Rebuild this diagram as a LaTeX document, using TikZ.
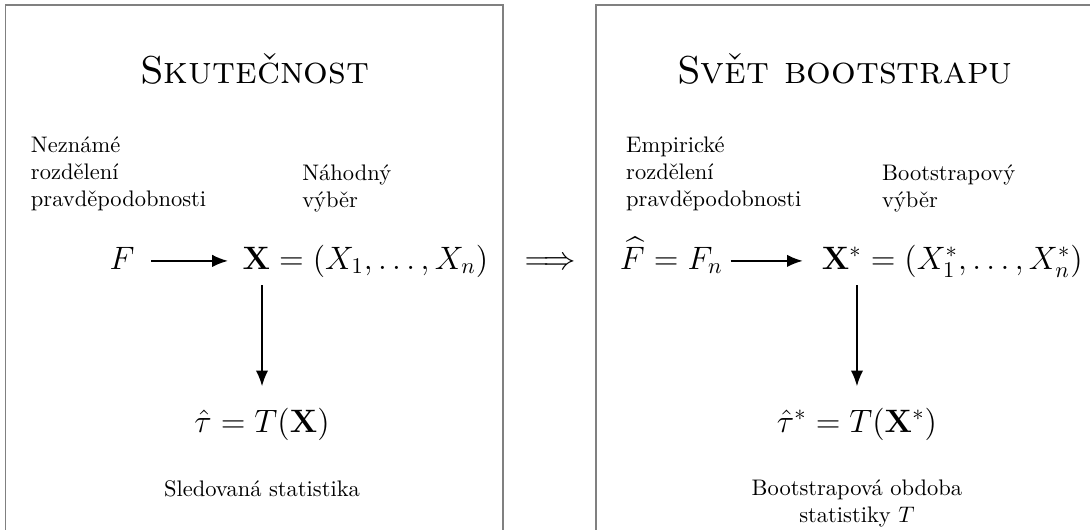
\documentclass[tikz,border=0pt]{standalone}
\usepackage{amsmath}
\usepackage{amssymb}
\usetikzlibrary{arrows.meta}

\begin{document}
\begin{tikzpicture}[
        heading/.style={font=\LARGE\scshape},
        formula/.style={font=\Large},
        frame/.style={draw=gray, line width=0.8pt},
        arr/.style={-{Latex[length=7pt,width=5.5pt]}, line width=0.8pt}
    ]
        % Page
            \useasboundingbox (0,-8.281) rectangle (17.031,0);
            \clip (0,-8.281) rectangle (17.031,0);
        % Frames
            \draw[frame] (0.086,-0.073) rectangle (7.86,-9);
            \draw[frame] (9.31,-0.073) rectangle (17.09,-9);
        % Reality
            \node[heading, anchor=base] (realTitle) at (3.98,-1.297) {Skutečnost};
            \node[anchor=north west, align=left] (unknown) at (0.36,-2.01) {Neznámé\\rozdělení\\pravděpodobnosti};
            \node[anchor=north west, align=left] (random) at (4.60,-2.45) {Náhodný\\výběr};
            \node[formula, anchor=base] (F) at (1.906,-4.203) {$F$};
            \node[formula, anchor=base] (X) at (5.71,-4.203) {$\mathbf{X} = (X_1, \ldots, X_n)$};
            \node[formula, anchor=base] (tau) at (4.094,-6.75) {$\hat{\tau} = T(\mathbf{X})$};
            \node[anchor=base] (stat) at (4.094,-7.75) {Sledovaná statistika};
            \draw[arr, shorten <=4pt, shorten >=3pt] ([yshift=3.6pt]F.base east) -- ([yshift=3.6pt]X.base west);
            \draw[arr, shorten >=6pt] (tau.north |- X.south) -- (tau.north);
        % Passing over
            \node[formula, anchor=base] (implies) at (8.60,-4.203) {$\Longrightarrow$};
        % Bootstrap world
            \node[heading, anchor=base] (bootTitle) at (13.20,-1.297) {Svět bootstrapu};
            \node[anchor=north west, align=left] (empirical) at (9.66,-2.01) {Empirické\\rozdělení\\pravděpodobnosti};
            \node[anchor=north west, align=left] (resample) at (13.66,-2.45) {Bootstrapový\\výběr};
            \node[formula, anchor=base] (Fhat) at (10.49,-4.203) {$\widehat{F} = F_n$};
            \node[formula, anchor=base] (Xstar) at (14.88,-4.203) {$\mathbf{X}^* = (X_1^*, \ldots, X_n^*)$};
            \node[formula, anchor=base] (tauStar) at (13.39,-6.75) {$\hat{\tau}^* = T(\mathbf{X}^*)$};
            \node[anchor=north, align=center] (bootStat) at (13.39,-7.38) {Bootstrapová obdoba\\statistiky $T$};
            \draw[arr, shorten >=5pt] ([yshift=3.6pt]Fhat.base east) -- ([yshift=3.6pt]Xstar.base west);
            \draw[arr, shorten >=6pt] (tauStar.north |- Xstar.south) -- (tauStar.north);
\end{tikzpicture}
\end{document}
